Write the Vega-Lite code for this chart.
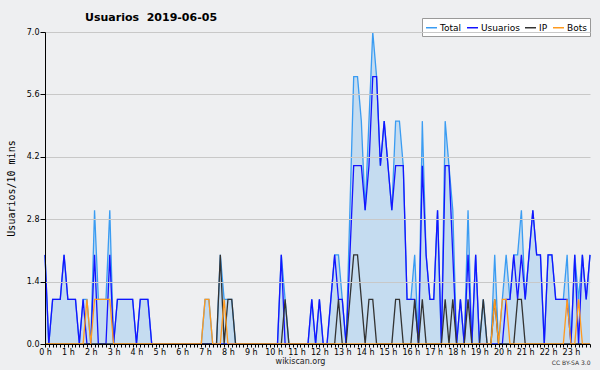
{
"$schema": "https://vega.github.io/schema/vega-lite/v6.json",
"width": 545, "height": 312,
"autosize": {"type": "none"},
"padding": {"left": 45, "top": 32, "right": 10, "bottom": 26},
"background": "#eeeff1",
"title": {"text": "Usuarios\u00a0\u00a02019-06-05", "anchor": "start", "frame": "group", "dx": 40, "dy": 16, "offset": 11, "font": "DejaVu Sans", "fontSize": 11, "fontWeight": "bold", "color": "#000"},
"data": {"values": [
{"s":0,"Total":2,"Usuarios":2,"IP":0,"Bots":0},{"s":1,"Total":0,"Usuarios":0,"IP":0,"Bots":0},{"s":2,"Total":1,"Usuarios":1,"IP":0,"Bots":0},{"s":3,"Total":1,"Usuarios":1,"IP":0,"Bots":0},{"s":4,"Total":1,"Usuarios":1,"IP":0,"Bots":0},{"s":5,"Total":2,"Usuarios":2,"IP":0,"Bots":0},{"s":6,"Total":1,"Usuarios":1,"IP":0,"Bots":0},{"s":7,"Total":1,"Usuarios":1,"IP":0,"Bots":0},{"s":8,"Total":1,"Usuarios":1,"IP":0,"Bots":0},{"s":9,"Total":0,"Usuarios":0,"IP":0,"Bots":0},
{"s":10,"Total":1,"Usuarios":1,"IP":0,"Bots":0},{"s":11,"Total":1,"Usuarios":0,"IP":0,"Bots":1},{"s":12,"Total":0,"Usuarios":0,"IP":0,"Bots":0},{"s":13,"Total":3,"Usuarios":2,"IP":0,"Bots":1},{"s":14,"Total":1,"Usuarios":0,"IP":0,"Bots":1},{"s":15,"Total":1,"Usuarios":0,"IP":0,"Bots":1},{"s":16,"Total":1,"Usuarios":0,"IP":0,"Bots":1},{"s":17,"Total":3,"Usuarios":2,"IP":0,"Bots":1},{"s":18,"Total":0,"Usuarios":0,"IP":0,"Bots":0},{"s":19,"Total":1,"Usuarios":1,"IP":0,"Bots":0},
{"s":20,"Total":1,"Usuarios":1,"IP":0,"Bots":0},{"s":21,"Total":1,"Usuarios":1,"IP":0,"Bots":0},{"s":22,"Total":1,"Usuarios":1,"IP":0,"Bots":0},{"s":23,"Total":1,"Usuarios":1,"IP":0,"Bots":0},{"s":24,"Total":0,"Usuarios":0,"IP":0,"Bots":0},{"s":25,"Total":1,"Usuarios":1,"IP":0,"Bots":0},{"s":26,"Total":1,"Usuarios":1,"IP":0,"Bots":0},{"s":27,"Total":1,"Usuarios":1,"IP":0,"Bots":0},{"s":28,"Total":0,"Usuarios":0,"IP":0,"Bots":0},{"s":29,"Total":0,"Usuarios":0,"IP":0,"Bots":0},
{"s":30,"Total":0,"Usuarios":0,"IP":0,"Bots":0},{"s":31,"Total":0,"Usuarios":0,"IP":0,"Bots":0},{"s":32,"Total":0,"Usuarios":0,"IP":0,"Bots":0},{"s":33,"Total":0,"Usuarios":0,"IP":0,"Bots":0},{"s":34,"Total":0,"Usuarios":0,"IP":0,"Bots":0},{"s":35,"Total":0,"Usuarios":0,"IP":0,"Bots":0},{"s":36,"Total":0,"Usuarios":0,"IP":0,"Bots":0},{"s":37,"Total":0,"Usuarios":0,"IP":0,"Bots":0},{"s":38,"Total":0,"Usuarios":0,"IP":0,"Bots":0},{"s":39,"Total":0,"Usuarios":0,"IP":0,"Bots":0},
{"s":40,"Total":0,"Usuarios":0,"IP":0,"Bots":0},{"s":41,"Total":0,"Usuarios":0,"IP":0,"Bots":0},{"s":42,"Total":1,"Usuarios":0,"IP":0,"Bots":1},{"s":43,"Total":1,"Usuarios":0,"IP":0,"Bots":1},{"s":44,"Total":0,"Usuarios":0,"IP":0,"Bots":0},{"s":45,"Total":0,"Usuarios":0,"IP":0,"Bots":0},{"s":46,"Total":2,"Usuarios":0,"IP":2,"Bots":0},{"s":47,"Total":1,"Usuarios":0,"IP":0,"Bots":1},{"s":48,"Total":1,"Usuarios":0,"IP":1,"Bots":0},{"s":49,"Total":1,"Usuarios":0,"IP":1,"Bots":0},
{"s":50,"Total":0,"Usuarios":0,"IP":0,"Bots":0},{"s":51,"Total":0,"Usuarios":0,"IP":0,"Bots":0},{"s":52,"Total":0,"Usuarios":0,"IP":0,"Bots":0},{"s":53,"Total":0,"Usuarios":0,"IP":0,"Bots":0},{"s":54,"Total":0,"Usuarios":0,"IP":0,"Bots":0},{"s":55,"Total":0,"Usuarios":0,"IP":0,"Bots":0},{"s":56,"Total":0,"Usuarios":0,"IP":0,"Bots":0},{"s":57,"Total":0,"Usuarios":0,"IP":0,"Bots":0},{"s":58,"Total":0,"Usuarios":0,"IP":0,"Bots":0},{"s":59,"Total":0,"Usuarios":0,"IP":0,"Bots":0},
{"s":60,"Total":0,"Usuarios":0,"IP":0,"Bots":0},{"s":61,"Total":0,"Usuarios":0,"IP":0,"Bots":0},{"s":62,"Total":2,"Usuarios":2,"IP":0,"Bots":0},{"s":63,"Total":1,"Usuarios":0,"IP":1,"Bots":0},{"s":64,"Total":0,"Usuarios":0,"IP":0,"Bots":0},{"s":65,"Total":0,"Usuarios":0,"IP":0,"Bots":0},{"s":66,"Total":0,"Usuarios":0,"IP":0,"Bots":0},{"s":67,"Total":0,"Usuarios":0,"IP":0,"Bots":0},{"s":68,"Total":0,"Usuarios":0,"IP":0,"Bots":0},{"s":69,"Total":0,"Usuarios":0,"IP":0,"Bots":0},
{"s":70,"Total":1,"Usuarios":1,"IP":0,"Bots":0},{"s":71,"Total":0,"Usuarios":0,"IP":0,"Bots":0},{"s":72,"Total":1,"Usuarios":1,"IP":0,"Bots":0},{"s":73,"Total":0,"Usuarios":0,"IP":0,"Bots":0},{"s":74,"Total":0,"Usuarios":0,"IP":0,"Bots":0},{"s":75,"Total":1,"Usuarios":1,"IP":0,"Bots":0},{"s":76,"Total":2,"Usuarios":2,"IP":0,"Bots":0},{"s":77,"Total":2,"Usuarios":1,"IP":1,"Bots":0},{"s":78,"Total":1,"Usuarios":1,"IP":0,"Bots":0},{"s":79,"Total":0,"Usuarios":0,"IP":0,"Bots":0},
{"s":80,"Total":3,"Usuarios":2,"IP":1,"Bots":0},{"s":81,"Total":6,"Usuarios":4,"IP":2,"Bots":0},{"s":82,"Total":6,"Usuarios":4,"IP":2,"Bots":0},{"s":83,"Total":5,"Usuarios":4,"IP":1,"Bots":0},{"s":84,"Total":3,"Usuarios":3,"IP":0,"Bots":0},{"s":85,"Total":5,"Usuarios":4,"IP":1,"Bots":0},{"s":86,"Total":7,"Usuarios":6,"IP":1,"Bots":0},{"s":87,"Total":6,"Usuarios":6,"IP":0,"Bots":0},{"s":88,"Total":4,"Usuarios":4,"IP":0,"Bots":0},{"s":89,"Total":5,"Usuarios":5,"IP":0,"Bots":0},
{"s":90,"Total":4,"Usuarios":4,"IP":0,"Bots":0},{"s":91,"Total":3,"Usuarios":3,"IP":0,"Bots":0},{"s":92,"Total":5,"Usuarios":4,"IP":1,"Bots":0},{"s":93,"Total":5,"Usuarios":4,"IP":1,"Bots":0},{"s":94,"Total":4,"Usuarios":4,"IP":0,"Bots":0},{"s":95,"Total":1,"Usuarios":1,"IP":0,"Bots":0},{"s":96,"Total":1,"Usuarios":1,"IP":0,"Bots":0},{"s":97,"Total":2,"Usuarios":1,"IP":1,"Bots":0},{"s":98,"Total":0,"Usuarios":0,"IP":0,"Bots":0},{"s":99,"Total":5,"Usuarios":4,"IP":1,"Bots":0},
{"s":100,"Total":2,"Usuarios":2,"IP":0,"Bots":0},{"s":101,"Total":1,"Usuarios":1,"IP":0,"Bots":0},{"s":102,"Total":1,"Usuarios":1,"IP":0,"Bots":0},{"s":103,"Total":3,"Usuarios":3,"IP":0,"Bots":0},{"s":104,"Total":0,"Usuarios":0,"IP":0,"Bots":0},{"s":105,"Total":5,"Usuarios":4,"IP":1,"Bots":0},{"s":106,"Total":4,"Usuarios":4,"IP":0,"Bots":0},{"s":107,"Total":3,"Usuarios":2,"IP":1,"Bots":0},{"s":108,"Total":0,"Usuarios":0,"IP":0,"Bots":0},{"s":109,"Total":1,"Usuarios":1,"IP":0,"Bots":0},
{"s":110,"Total":0,"Usuarios":0,"IP":0,"Bots":0},{"s":111,"Total":3,"Usuarios":2,"IP":1,"Bots":0},{"s":112,"Total":0,"Usuarios":0,"IP":0,"Bots":0},{"s":113,"Total":2,"Usuarios":2,"IP":0,"Bots":0},{"s":114,"Total":0,"Usuarios":0,"IP":0,"Bots":0},{"s":115,"Total":1,"Usuarios":0,"IP":1,"Bots":0},{"s":116,"Total":0,"Usuarios":0,"IP":0,"Bots":0},{"s":117,"Total":0,"Usuarios":0,"IP":0,"Bots":0},{"s":118,"Total":2,"Usuarios":0,"IP":1,"Bots":1},{"s":119,"Total":0,"Usuarios":0,"IP":0,"Bots":0},
{"s":120,"Total":1,"Usuarios":0,"IP":0,"Bots":1},{"s":121,"Total":2,"Usuarios":1,"IP":0,"Bots":1},{"s":122,"Total":1,"Usuarios":1,"IP":0,"Bots":0},{"s":123,"Total":2,"Usuarios":2,"IP":0,"Bots":0},{"s":124,"Total":2,"Usuarios":1,"IP":1,"Bots":0},{"s":125,"Total":3,"Usuarios":2,"IP":1,"Bots":0},{"s":126,"Total":1,"Usuarios":1,"IP":0,"Bots":0},{"s":127,"Total":2,"Usuarios":2,"IP":0,"Bots":0},{"s":128,"Total":3,"Usuarios":3,"IP":0,"Bots":0},{"s":129,"Total":2,"Usuarios":2,"IP":0,"Bots":0},
{"s":130,"Total":2,"Usuarios":2,"IP":0,"Bots":0},{"s":131,"Total":0,"Usuarios":0,"IP":0,"Bots":0},{"s":132,"Total":2,"Usuarios":2,"IP":0,"Bots":0},{"s":133,"Total":2,"Usuarios":2,"IP":0,"Bots":0},{"s":134,"Total":1,"Usuarios":1,"IP":0,"Bots":0},{"s":135,"Total":1,"Usuarios":1,"IP":0,"Bots":0},{"s":136,"Total":1,"Usuarios":1,"IP":0,"Bots":0},{"s":137,"Total":2,"Usuarios":1,"IP":0,"Bots":1},{"s":138,"Total":0,"Usuarios":0,"IP":0,"Bots":0},{"s":139,"Total":2,"Usuarios":2,"IP":0,"Bots":0},
{"s":140,"Total":1,"Usuarios":0,"IP":0,"Bots":1},{"s":141,"Total":2,"Usuarios":2,"IP":0,"Bots":0},{"s":142,"Total":1,"Usuarios":1,"IP":0,"Bots":0},{"s":143,"Total":2,"Usuarios":2,"IP":0,"Bots":0}
]},
"transform": [{"fold": ["Total", "Usuarios", "IP", "Bots"], "as": ["serie", "valor"]}],
"layer": [
{"transform": [{"filter": "datum.serie == 'Total'"}],
 "mark": {"type": "area", "color": "#c5dcf0", "opacity": 1},
 "encoding": {
  "x": {"field": "s", "type": "quantitative", "scale": {"domain": [0, 143], "nice": false, "zero": false},
   "axis": {"tickCount": 143, "labelExpr": "datum.value % 6 == 0 ? (datum.value / 6) + ' h' : ''", "labelOverlap": false, "labelFlush": false, "grid": false, "tickSize": 3, "tickColor": "#000", "domainColor": "#000", "labelFont": "DejaVu Sans", "labelFontSize": 8, "labelColor": "#000", "labelPadding": 1, "title": "wikiscan.org", "titleFont": "DejaVu Sans", "titleFontSize": 8, "titleFontWeight": "normal", "titleColor": "#222", "titleX": 255, "titleY": 13, "titleBaseline": "top", "zindex": 1}},
  "y": {"field": "valor", "type": "quantitative", "scale": {"domain": [0, 7], "nice": false},
   "axis": {"values": [0, 0.35, 0.7, 1.05, 1.4, 1.75, 2.1, 2.45, 2.8, 3.15, 3.5, 3.85, 4.2, 4.55, 4.9, 5.25, 5.6, 5.95, 6.3, 6.65, 7],
    "labelExpr": "abs(datum.value / 1.4 - round(datum.value / 1.4)) < 0.01 ? format(datum.value, '.1f') : ''",
    "grid": true, "gridColor": "#c8c8c8",
    "gridOpacity": {"condition": {"test": "abs(datum.value / 1.4 - round(datum.value / 1.4)) < 0.01", "value": 1}, "value": 0},
    "tickSize": {"condition": {"test": "abs(datum.value / 1.4 - round(datum.value / 1.4)) < 0.01", "value": 5}, "value": 3},
    "tickColor": "#000", "domainColor": "#000", "labelFont": "DejaVu Sans", "labelFontSize": 8, "labelColor": "#000", "labelPadding": 1, "labelOverlap": false,
    "title": "Usuarios/10 mins", "titleFont": "DejaVu Sans Mono", "titleFontSize": 10, "titleFontWeight": "normal", "titleColor": "#000", "titlePadding": 10, "zindex": 1}}
 }},
{"mark": {"type": "line", "strokeWidth": 1.3},
 "encoding": {
  "x": {"field": "s", "type": "quantitative", "axis": null},
  "y": {"field": "valor", "type": "quantitative"},
  "color": {"field": "serie", "type": "nominal",
   "scale": {"domain": ["Total", "Usuarios", "IP", "Bots"], "range": ["#3a9cf2", "#1414ff", "#333333", "#ff9a1f"]},
   "legend": {"orient": "none", "legendX": 377, "legendY": -14, "direction": "horizontal", "columns": 4, "title": null, "symbolType": "stroke", "symbolSize": 120, "symbolStrokeWidth": 1.5, "labelFont": "DejaVu Sans", "labelFontSize": 9, "labelColor": "#000", "padding": 3, "strokeColor": "#999", "fillColor": "#fff", "columnPadding": 2, "labelOffset": 2}}
 }},
{"transform": [{"filter": "datum.serie == 'Bots'"}],
 "mark": {"type": "point", "opacity": 0},
 "encoding": {
  "x": {"field": "s", "type": "quantitative", "axis": {"orient": "bottom", "domain": false, "ticks": false, "labels": false, "grid": false, "title": "CC BY-SA 3.0", "titleFont": "DejaVu Sans", "titleFontSize": 6, "titleFontWeight": "normal", "titleColor": "#333", "titleX": 545, "titleY": 15, "titleAlign": "right", "titleBaseline": "top"}},
  "y": {"field": "valor", "type": "quantitative"}
 }}
],
"resolve": {"axis": {"x": "independent"}},
"config": {"view": {"stroke": null}}
}
